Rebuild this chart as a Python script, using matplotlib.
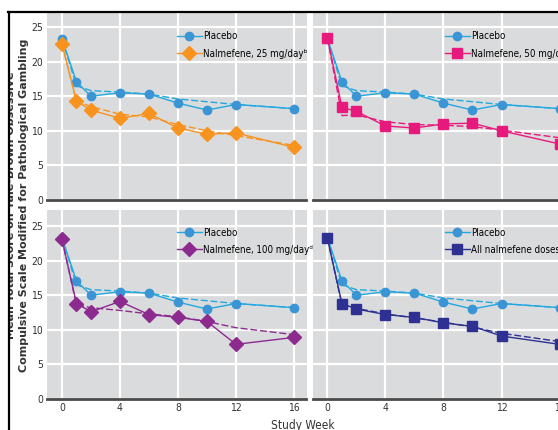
import matplotlib
matplotlib.use("Agg")
import matplotlib.pyplot as plt
from matplotlib.lines import Line2D
from matplotlib.patches import Rectangle

# ---------------- data ----------------
weeks = [0, 1, 2, 4, 6, 8, 10, 12, 16]
x_ticks = [0, 4, 8, 12, 16]
y_ticks = [0, 5, 10, 15, 20, 25]

placebo_obs = [23.3, 17.1, 15.0, 15.5, 15.3, 14.0, 13.0, 13.8, 13.2]
placebo_fit = [23.3, 16.5, 15.8, 15.6, 15.3, 14.6, 14.2, 13.8, 13.2]

nal25_obs = [22.6, 14.3, 13.0, 11.8, 12.5, 10.4, 9.5, 9.7, 7.6]
nal25_fit = [22.6, 14.3, 13.5, 12.4, 12.0, 10.9, 10.0, 9.3, 7.9]

nal50_obs = [23.4, 13.4, 12.8, 10.7, 10.4, 11.0, 11.1, 10.0, 8.1]
nal50_fit = [23.4, 12.2, 12.3, 11.3, 10.9, 10.8, 10.6, 10.1, 9.0]

nal100_obs = [23.1, 13.8, 12.6, 14.1, 12.2, 11.8, 11.2, 7.9, 8.9]
nal100_fit = [23.1, 13.6, 13.2, 12.8, 12.3, 11.9, 11.2, 10.3, 9.3]

all_obs = [23.2, 13.8, 13.0, 12.2, 11.8, 11.0, 10.5, 9.1, 7.9]
all_fit = [23.2, 13.6, 13.1, 12.3, 11.7, 11.1, 10.4, 9.5, 8.3]

labels = ["Nalmefene, 25 mg/day\u1d47",
          "Nalmefene, 50 mg/day\u1d9c",
          "Nalmefene, 100 mg/day\u1d48",
          "All nalmefene doses\u1d49"]
treat_obs = [nal25_obs, nal50_obs, nal100_obs, all_obs]
treat_fit = [nal25_fit, nal50_fit, nal100_fit, all_fit]
treat_colors = ["#f7931e", "#e8197c", "#8c2a8e", "#2e3192"]
treat_markers = ["D", "s", "D", "s"]
treat_msize = [7.5, 7, 7.5, 7]

placebo_line = "#22a9e1"
placebo_mark = "#3b95d4"

# ---------------- fonts ----------------
plt.rcParams["font.family"] = ["DejaVu Sans"]
plt.rcParams["font.stretch"] = "condensed"

W, H = 558, 430
fig = plt.figure(figsize=(W / 100, H / 100), dpi=100)

def frac(x0, y0, x1, y1):
    return [x0 / W, 1 - y1 / H, (x1 - x0) / W, (y1 - y0) / H]

panel_px = [
    (47, 13.5, 306.5, 200),
    (312.5, 13.5, 572, 200),
    (47, 209.5, 306.5, 399),
    (312.5, 209.5, 572, 399),
]
px_per_unit = 6.92

for i, (x0, y0, x1, y1) in enumerate(panel_px):
    ax = fig.add_axes(frac(x0, y0, x1, y1))
    ax.set_facecolor("#dadbdc")
    ax.set_xlim(-1.03, 16.86)
    ax.set_ylim(0, (y1 - y0) / px_per_unit)
    ax.set_xticks(x_ticks)
    ax.set_yticks(y_ticks)
    ax.grid(True, color="white", linewidth=1.6, zorder=0)
    ax.set_axisbelow(True)
    for s in ["top", "right", "left"]:
        ax.spines[s].set_visible(False)
    ax.spines["bottom"].set_color("#4a4a4a")
    ax.spines["bottom"].set_linewidth(2.0)
    ax.tick_params(length=0, labelsize=7.5, colors="#333333", pad=3)
    if i in (1, 3):
        ax.set_yticklabels([])
    if i in (0, 1):
        ax.set_xticklabels([])

    # placebo
    ax.plot(weeks, placebo_fit, color=placebo_line, lw=1.0, ls=(0, (5, 2)), zorder=2)
    ax.plot(weeks, placebo_obs, color=placebo_line, lw=1.0, marker="o", ms=6,
            mfc=placebo_mark, mec=placebo_mark, zorder=3)
    # treatment
    c = treat_colors[i]
    ax.plot(weeks, treat_fit[i], color=c, lw=1.0, ls=(0, (5, 2)), zorder=2)
    ax.plot(weeks, treat_obs[i], color=c, lw=1.0, marker=treat_markers[i],
            ms=treat_msize[i], mfc=c, mec=c, zorder=4)

    handles = [
        Line2D([], [], color=placebo_line, lw=1.0, marker="o", ms=6,
               mfc=placebo_mark, mec=placebo_mark),
        Line2D([], [], color=c, lw=1.0, marker=treat_markers[i], ms=treat_msize[i],
               mfc=c, mec=c),
    ]
    leg_x = 0.50 if i in (0, 2) else 0.51
    ax.legend(handles, ["Placebo", labels[i]], loc="upper left",
              bbox_to_anchor=(leg_x, 0.905), frameon=False, fontsize=7.0,
              handlelength=2.6, handletextpad=0.1, labelspacing=0.75,
              borderpad=0, borderaxespad=0)

fig.text(303 / W, 1 - 425 / H, "Study Week", ha="center", va="center",
         fontsize=8.5, color="#333333")

# y-axis label (two rotated lines)
ylab_y = 1 - 205 / H
fig.text(11 / W, ylab_y, "Mean Total Score on Yale-Brown Obsessive",
         rotation=90, ha="center", va="center", fontsize=8,
         fontweight="bold", fontstretch="normal", color="#333333")
fig.text(24 / W, ylab_y, "Compulsive Scale Modified for Pathological Gambling",
         rotation=90, ha="center", va="center", fontsize=8,
         fontweight="bold", fontstretch="normal", color="#333333")

# frame (white margin, black border lines)
fig.patches.append(Rectangle((0, 0), 8 / W, 1, transform=fig.transFigure,
                             facecolor="white", edgecolor="none", zorder=10))
fig.patches.append(Rectangle((0, 1 - 11 / H), 1, 11 / H, transform=fig.transFigure,
                             facecolor="white", edgecolor="none", zorder=10))
fig.add_artist(Line2D([8.5 / W, 8.5 / W], [0, 1 - 11.5 / H], transform=fig.transFigure,
                      color="black", lw=1.6, zorder=11))
fig.add_artist(Line2D([7.7 / W, 1], [1 - 11.5 / H, 1 - 11.5 / H], transform=fig.transFigure,
                      color="black", lw=1.6, zorder=11))

fig.savefig("out.png", dpi=100)
